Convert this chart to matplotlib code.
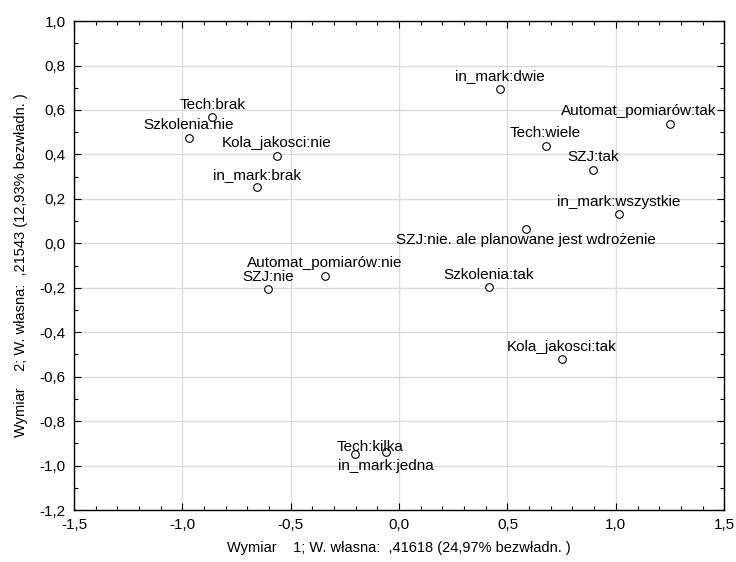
import matplotlib
matplotlib.use("Agg")
import matplotlib.pyplot as plt
from matplotlib.ticker import MultipleLocator, FuncFormatter

plt.rcParams["font.family"] = ["Liberation Sans", "DejaVu Sans"]
plt.rcParams["font.size"] = 11

labels = [
    "Tech:brak", "Szkolenia:nie", "Kola_jakosci:nie", "in_mark:brak",
    "in_mark:dwie", "Tech:wiele", "Automat_pomiarów:tak", "SZJ:tak",
    "in_mark:wszystkie", "SZJ:nie. ale planowane jest wdrożenie",
    "Automat_pomiarów:nie", "SZJ:nie", "Szkolenia:tak", "Kola_jakosci:tak",
    "Tech:kilka", "in_mark:jedna",
]
dim1 = [-0.862, -0.970, -0.565, -0.654, 0.464, 0.676, 1.251, 0.894,
        1.014, 0.584, -0.344, -0.605, 0.413, 0.751, -0.205, -0.062]
dim2 = [0.568, 0.476, 0.393, 0.252, 0.695, 0.440, 0.537, 0.330,
        0.130, 0.064, -0.146, -0.206, -0.198, -0.521, -0.947, -0.941]

# label offsets in points (default: centred above the point)
offsets = {
    "Automat_pomiarów:tak": (-23, 9),
    "SZJ:nie. ale planowane jest wdrożenie": (0, -7.5),
    "Tech:kilka": (11, 5),
    "in_mark:jedna": (0, -9.5),
}

fig = plt.figure(figsize=(7.36, 5.62), dpi=100)
ax = fig.add_axes([0.1005, 0.0925, 0.8835, 0.870])

ax.plot(dim1, dim2, "o", ms=5.5, mfc="white", mec="black", mew=0.8, zorder=3)
for name, x, y in zip(labels, dim1, dim2):
    dx, dy = offsets.get(name, (0, 9))
    ax.annotate(name, (x, y), xytext=(dx, dy), textcoords="offset points",
                ha="center", va="center", fontsize=11, zorder=4)

ax.set_xlim(-1.5, 1.5)
ax.set_ylim(-1.2, 1.0)
ax.xaxis.set_major_locator(MultipleLocator(0.5))
ax.xaxis.set_minor_locator(MultipleLocator(0.1))
ax.yaxis.set_major_locator(MultipleLocator(0.2))
ax.yaxis.set_minor_locator(MultipleLocator(0.1))
fmt = FuncFormatter(lambda v, p: f"{v:.1f}".replace(".", ",").replace("-0,0", "0,0"))
ax.xaxis.set_major_formatter(fmt)
ax.yaxis.set_major_formatter(fmt)
ax.tick_params(which="both", direction="in", top=True, right=True, labelsize=11, width=0.8)
ax.tick_params(which="major", length=5, pad=6)
ax.tick_params(which="minor", length=3)
ax.grid(True, which="major", color="#dcdcdc", lw=1.0)
ax.set_axisbelow(True)
for s in ax.spines.values():
    s.set_linewidth(1.0)

ax.set_xlabel("Wymiar    1; W. własna:  ,41618 (24,97% bezwładn. )", fontsize=10.5, labelpad=6)
ax.set_ylabel("Wymiar    2; W. własna:  ,21543 (12,93% bezwładn. )", fontsize=10.5, labelpad=8)

fig.savefig("out.png", dpi=100)
